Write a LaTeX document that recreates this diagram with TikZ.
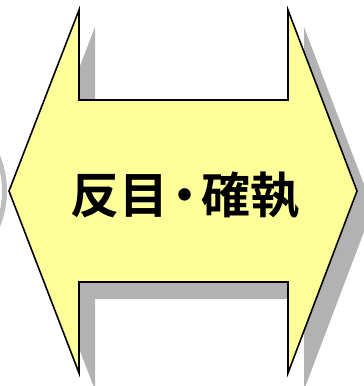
\documentclass[tikz,border=0pt]{standalone}
\usepackage{fontspec}
\newfontfamily\jpfont{Noto Sans CJK JP}[BoldFont={* Bold}]
\begin{document}
\begin{tikzpicture}[x=1pt,y=-1pt,
  arrowshape/.style={draw=black, line width=1.6pt, line join=miter},
  shadowshape/.style={fill=black!30, draw=none}]
\definecolor{ylw}{HTML}{FFFF99}
\useasboundingbox (0,0) rectangle (364,386);
\begin{scope}
\clip (0,0) rectangle (364,386);
% partial gray crescent at the left edge
\fill[black!25, even odd rule] (-60,191) ellipse [x radius=67, y radius=80] (-65,191) ellipse [x radius=67, y radius=78];
% shadow
\fill[shadowshape] (25,208) -- (95,27) -- (95,117) -- (304,117) -- (304,27) -- (373,208) -- (304,390) -- (304,299) -- (95,299) -- (95,390) -- cycle;
\end{scope}
% arrow
\draw[arrowshape, fill=ylw] (9,191) -- (79,10) -- (79,100) -- (288,100) -- (288,10) -- (357,191) -- (288,373) -- (288,282) -- (79,282) -- (79,373) -- cycle;
\node (t) at (185,195) {\jpfont\bfseries\fontsize{49}{52}\selectfont 反目\kern-8pt・\kern-8pt確執};
\end{tikzpicture}
\end{document}
